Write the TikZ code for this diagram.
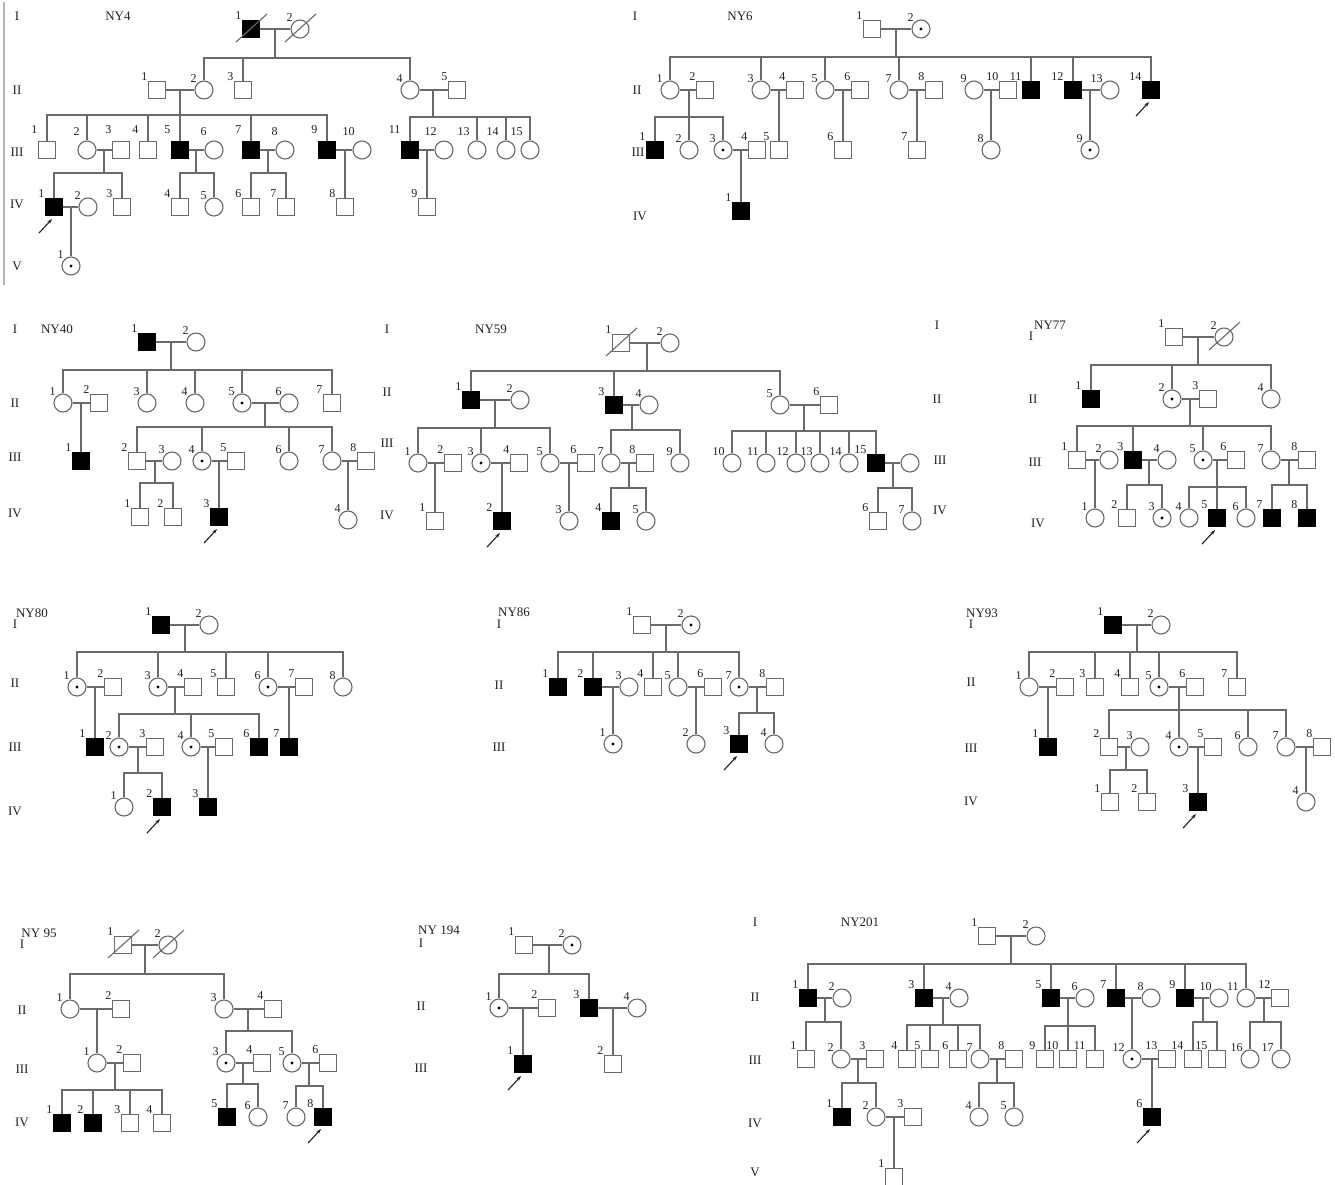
\documentclass[tikz,border=0pt]{standalone}
\usepackage{fontspec}
\setmainfont{Liberation Serif}
\usetikzlibrary{arrows.meta,calc}
\definecolor{ink}{HTML}{6A6A6A}
\definecolor{txt}{HTML}{222222}

% one individual, numbered above left
\newcommand{\pers}[4]{\node[#2, label={[num]north west:#4}] (#1) at (#3) {};}
% a row of individuals: prefix, y, list id/kind/x
\newcommand{\genrow}[3]{\foreach \id/\kind/\x in {#3} {\pers{#1\id}{\kind}{\x,#2}{\id}}}
% couple, descent to a sibship bar, drops to the children
\newcommand{\sibship}[6]{%
  \draw[ln] (#1-#2) -- (#1-#3);
  \coordinate (#1-#4) at (#5);
  \draw[ln] (#1-#4 |- #1-#2) -- (#1-#4);
  \foreach \kid in {#6} {\draw[ln] (#1-\kid) -- (#1-\kid |- #1-#4) -- (#1-#4);}%
}
\newcommand{\deceased}[1]{\draw[ln] ([shift={(-15,13)}]#1.center) -- ([shift={(16,-15)}]#1.center);}
\newcommand{\proband}[1]{\draw[arr] ([shift={(-15,17)}]#1.south) -- ([shift={(-2,3)}]#1.south);}

\begin{document}
\begin{tikzpicture}[x=1pt, y=-1pt,
    male/.style={draw=ink, line width=1.1pt, fill=white, rectangle, minimum size=17pt, inner sep=0pt},
    female/.style={male, circle, minimum size=18pt},
    aff/.style={male, fill=black, draw=black},
    car/.style={female, path picture={\fill[black] (path picture bounding box.center) circle (1.6pt);}},
    num/.style={font=\fontsize{12}{12}\selectfont, text=txt, inner sep=0.4pt},
    gen/.style={font=\fontsize{13}{13}\selectfont, text=txt, inner sep=0pt},
    ln/.style={draw=ink, line width=1.1pt},
    arr/.style={ln, draw=txt, -{Stealth[length=5pt,width=3.5pt]}},
  ]
  \path[use as bounding box, fill=white] (0,0) rectangle (1335,1185);
  \draw[ln, draw=ink!50] (4,2) -- (4,285);

  % ------------------------------------------------------------------ NY4
  \node[gen] (ny4-title) at (118,16) {NY4};
  \foreach \g/\y in {I/16,II/90,III/152,IV/204,V/266} \node[gen] (ny4-g\g) at (17,\y) {\g};
  \pers{ny4-I1}{aff}{251,29}{1}
  \pers{ny4-I2}{female}{300,29}{2}
  \genrow{ny4-II}{90}{1/male/157, 2/female/204, 3/male/243, 4/female/410, 5/male/457}
  \begin{scope}[every label/.append style={yshift=7pt}]
    \genrow{ny4-III}{150}{1/male/47, 2/female/87, 3/male/121, 4/male/148, 5/aff/180, 6/female/214, 7/aff/251,
      8/female/285, 9/aff/327, 10/female/362, 11/aff/410, 12/female/444, 13/female/477, 14/female/506, 15/female/530}
  \end{scope}
  \genrow{ny4-IV}{207}{1/aff/54, 2/female/88, 3/male/122, 4/male/180, 5/female/214, 6/male/251, 7/male/286,
    8/male/345, 9/male/427}
  \pers{ny4-V1}{car}{71,266}{1}
  \sibship{ny4}{I1}{I2}{s1}{275,58}{II2,II3,II4}
  \sibship{ny4}{II1}{II2}{s2}{180,115}{III1,III2,III4,III5,III7,III9}
  \sibship{ny4}{II4}{II5}{s3}{433,117}{III11,III13,III14,III15}
  \sibship{ny4}{III2}{III3}{s4}{104,173}{IV1,IV3}
  \sibship{ny4}{III5}{III6}{s5}{196,173}{IV4,IV5}
  \sibship{ny4}{III7}{III8}{s6}{268,173}{IV6,IV7}
  \sibship{ny4}{III9}{III10}{s7}{345,180}{IV8}
  \sibship{ny4}{III11}{III12}{s8}{427,180}{IV9}
  \sibship{ny4}{IV1}{IV2}{s9}{71,240}{V1}
  \deceased{ny4-I1} \deceased{ny4-I2}
  \proband{ny4-IV1}

  % ------------------------------------------------------------------ NY6
  \node[gen] (ny6-title) at (740,16) {NY6};
  \foreach \g/\x/\y in {I/635/16, II/637/90, III/638/152, IV/640/216} \node[gen] (ny6-g\g) at (\x,\y) {\g};
  \pers{ny6-I1}{male}{872,29}{1}
  \pers{ny6-I2}{car}{921,29}{2}
  \genrow{ny6-II}{90}{1/female/670, 2/male/705, 3/female/761, 4/male/795, 5/female/825, 6/male/860,
    7/female/899, 8/male/934, 9/female/974, 10/male/1008, 11/aff/1031, 12/aff/1073, 13/female/1110, 14/aff/1151}
  \genrow{ny6-III}{150}{1/aff/655, 2/female/689, 3/car/723, 4/male/757, 5/male/779, 6/male/843, 7/male/917,
    8/female/991, 9/car/1090}
  \pers{ny6-IV1}{aff}{741,211}{1}
  \sibship{ny6}{I1}{I2}{s1}{896,57}{II1,II3,II5,II7,II11,II12,II14}
  \sibship{ny6}{II1}{II2}{s2}{689,117}{III1,III2,III3}
  \sibship{ny6}{II3}{II4}{s3}{779,125}{III5}
  \sibship{ny6}{II5}{II6}{s4}{843,125}{III6}
  \sibship{ny6}{II7}{II8}{s5}{917,125}{III7}
  \sibship{ny6}{II9}{II10}{s6}{991,125}{III8}
  \sibship{ny6}{II12}{II13}{s7}{1090,125}{III9}
  \sibship{ny6}{III3}{III4}{s8}{741,185}{IV1}
  \proband{ny6-II14}

  % ------------------------------------------------------------------ NY40
  \node[gen] (ny40-title) at (57,329) {NY40};
  \foreach \g/\y in {I/329,II/403,III/457,IV/513} \node[gen] (ny40-g\g) at (15,\y) {\g};
  \pers{ny40-I1}{aff}{147,342}{1}
  \pers{ny40-I2}{female}{196,342}{2}
  \genrow{ny40-II}{403}{1/female/63, 2/male/99, 3/female/147, 4/female/195, 5/car/242, 6/female/289, 7/male/332}
  \genrow{ny40-III}{461}{1/aff/81, 2/male/137, 3/female/172, 4/car/202, 5/male/236, 6/female/289, 7/female/332, 8/male/366}
  \genrow{ny40-IV}{517}{1/male/140, 2/male/173, 3/aff/219}
  \pers{ny40-IV4}{female}{348,520}{4}
  \sibship{ny40}{I1}{I2}{s1}{171,370}{II1,II3,II4,II5,II7}
  \sibship{ny40}{II1}{II2}{s2}{81,430}{III1}
  \sibship{ny40}{II5}{II6}{s3}{265,427}{III2,III4,III6,III7}
  \sibship{ny40}{III2}{III3}{s4}{155,483}{IV1,IV2}
  \sibship{ny40}{III4}{III5}{s5}{219,490}{IV3}
  \sibship{ny40}{III7}{III8}{s6}{348,490}{IV4}
  \proband{ny40-IV3}

  % ------------------------------------------------------------------ NY59
  \node[gen] (ny59-title) at (491,329) {NY59};
  \foreach \g/\y in {I/329,II/392,III/443,IV/515} \node[gen] (ny59-g\g) at (387,\y) {\g};
  \pers{ny59-I1}{male}{621,343}{1}
  \pers{ny59-I2}{female}{670,343}{2}
  \genrow{ny59-II}{400}{1/aff/471, 2/female/520}
  \genrow{ny59-II}{405}{3/aff/614, 4/female/649, 5/female/780, 6/male/829}
  \genrow{ny59-III}{463}{1/female/418, 2/male/453, 3/car/481, 4/male/519, 5/female/550, 6/male/586, 7/female/611,
    8/male/645, 9/female/680, 10/female/732, 11/female/766, 12/female/796, 13/female/820, 14/female/849, 15/aff/876}
  \node[female] (ny59-III16) at (910,463) {};
  \genrow{ny59-IV}{521}{1/male/435, 2/aff/502, 3/female/569, 4/aff/611, 5/female/646, 6/male/878, 7/female/912}
  \sibship{ny59}{I1}{I2}{s1}{647,371}{II1,II3,II5}
  \sibship{ny59}{II1}{II2}{s2}{495,428}{III1,III3,III5}
  \sibship{ny59}{II3}{II4}{s3}{632,430}{III7,III9}
  \sibship{ny59}{II5}{II6}{s4}{804,431}{III10,III11,III12,III13,III14,III15}
  \sibship{ny59}{III1}{III2}{s5}{435,495}{IV1}
  \sibship{ny59}{III3}{III4}{s6}{502,495}{IV2}
  \sibship{ny59}{III5}{III6}{s7}{569,495}{IV3}
  \sibship{ny59}{III7}{III8}{s8}{629,488}{IV4,IV5}
  \sibship{ny59}{III15}{III16}{s9}{893,488}{IV6,IV7}
  \deceased{ny59-I1}
  \proband{ny59-IV2}

  % ------------------------------------------------------------------ NY77
  \node[gen] (ny77-title) at (1050,325) {NY77};
  \foreach \g/\x/\y in {I/937/325, II/937/399, III/940/460, IV/940/510} \node[gen] (ny77-g\g) at (\x,\y) {\g};
  \foreach \g/\x/\y in {I/1031/336, II/1033/399, III/1035/462, IV/1038/523} \node[gen] (ny77-h\g) at (\x,\y) {\g};
  \pers{ny77-I1}{male}{1174,337}{1}
  \pers{ny77-I2}{female}{1224,337}{2}
  \genrow{ny77-II}{399}{1/aff/1091, 2/car/1172, 3/male/1208, 4/female/1271}
  \genrow{ny77-III}{460}{1/male/1077, 2/female/1109, 3/aff/1133, 4/female/1167, 5/car/1203, 6/male/1236,
    7/female/1271, 8/male/1307}
  \genrow{ny77-IV}{518}{1/female/1095, 2/male/1127, 3/car/1162, 4/female/1189, 5/aff/1217, 6/female/1246,
    7/aff/1272, 8/aff/1307}
  \sibship{ny77}{I1}{I2}{s1}{1198,365}{II1,II2,II4}
  \sibship{ny77}{II2}{II3}{s2}{1190,426}{III1,III3,III5,III7}
  \sibship{ny77}{III1}{III2}{s3}{1095,490}{IV1}
  \sibship{ny77}{III3}{III4}{s4}{1149,485}{IV2,IV3}
  \sibship{ny77}{III5}{III6}{s5}{1217,487}{IV4,IV5,IV6}
  \sibship{ny77}{III7}{III8}{s6}{1289,485}{IV7,IV8}
  \deceased{ny77-I2}
  \proband{ny77-IV5}

  % ------------------------------------------------------------------ NY80
  \node[gen] (ny80-title) at (32,613) {NY80};
  \foreach \g/\y in {I/624,II/683,III/747,IV/811} \node[gen] (ny80-g\g) at (15,\y) {\g};
  \pers{ny80-I1}{aff}{161,625}{1}
  \pers{ny80-I2}{female}{209,625}{2}
  \genrow{ny80-II}{687}{1/car/77, 2/male/113, 3/car/158, 4/male/193, 5/male/226, 6/car/268, 7/male/304, 8/female/343}
  \genrow{ny80-III}{747}{1/aff/95, 2/car/119, 3/male/155, 4/car/191, 5/male/224, 6/aff/259, 7/aff/289}
  \genrow{ny80-IV}{807}{1/female/124, 2/aff/162, 3/aff/208}
  \sibship{ny80}{I1}{I2}{s1}{185,652}{II1,II3,II5,II6,II8}
  \sibship{ny80}{II1}{II2}{s2}{95,720}{III1}
  \sibship{ny80}{II3}{II4}{s3}{175,714}{III2,III4,III6}
  \sibship{ny80}{II6}{II7}{s4}{289,720}{III7}
  \sibship{ny80}{III2}{III3}{s5}{138,773}{IV1,IV2}
  \sibship{ny80}{III4}{III5}{s6}{208,780}{IV3}
  \proband{ny80-IV2}

  % ------------------------------------------------------------------ NY86
  \node[gen] (ny86-title) at (514,612) {NY86};
  \foreach \g/\y in {I/624,II/685,III/747} \node[gen] (ny86-g\g) at (499,\y) {\g};
  \pers{ny86-I1}{male}{642,625}{1}
  \pers{ny86-I2}{car}{691,625}{2}
  \genrow{ny86-II}{687}{1/aff/558, 2/aff/593, 3/female/629, 4/male/653, 5/female/678, 6/male/713, 7/car/739, 8/male/775}
  \genrow{ny86-III}{744}{1/car/613, 2/female/696, 3/aff/739, 4/female/774}
  \sibship{ny86}{I1}{I2}{s1}{666,652}{II1,II2,II4,II5,II7}
  \sibship{ny86}{II2}{II3}{s2}{613,715}{III1}
  \sibship{ny86}{II5}{II6}{s3}{696,715}{III2}
  \sibship{ny86}{II7}{II8}{s4}{757,713}{III3,III4}
  \proband{ny86-III3}

  % ------------------------------------------------------------------ NY93
  \node[gen] (ny93-title) at (982,613) {NY93};
  \foreach \g/\y in {I/624,II/682,III/748,IV/801} \node[gen] (ny93-g\g) at (971,\y) {\g};
  \pers{ny93-I1}{aff}{1113,625}{1}
  \pers{ny93-I2}{female}{1161,625}{2}
  \genrow{ny93-II}{687}{1/female/1029, 2/male/1065, 3/male/1095, 4/male/1130, 5/car/1159, 6/male/1195, 7/male/1237}
  \genrow{ny93-III}{747}{1/aff/1048, 2/male/1109, 3/female/1140, 4/car/1179, 5/male/1213, 6/female/1248,
    7/female/1286, 8/male/1322}
  \genrow{ny93-IV}{802}{1/male/1110, 2/male/1147, 3/aff/1198, 4/female/1306}
  \sibship{ny93}{I1}{I2}{s1}{1137,652}{II1,II3,II4,II5,II7}
  \sibship{ny93}{II1}{II2}{s2}{1048,720}{III1}
  \sibship{ny93}{II5}{II6}{s3}{1179,710}{III2,III4,III6,III7}
  \sibship{ny93}{III2}{III3}{s4}{1126,770}{IV1,IV2}
  \sibship{ny93}{III4}{III5}{s5}{1198,775}{IV3}
  \sibship{ny93}{III7}{III8}{s6}{1306,775}{IV4}
  \proband{ny93-IV3}

  % ------------------------------------------------------------------ NY 95
  \node[gen] (ny95-title) at (39,933) {NY 95};
  \foreach \g/\y in {I/944,II/1010,III/1069,IV/1122} \node[gen] (ny95-g\g) at (22,\y) {\g};
  \pers{ny95-I1}{male}{123,945}{1}
  \pers{ny95-I2}{female}{168,945}{2}
  \genrow{ny95-II}{1009}{1/female/70, 2/male/121, 3/female/224, 4/male/273}
  \genrow{ny95-III}{1063}{1/female/97, 2/male/132, 3/car/226, 4/male/262, 5/car/292, 6/male/328}
  \genrow{ny95-IV}{1123}{1/aff/62, 2/aff/93, 3/male/130, 4/male/162}
  \genrow{ny95-IV}{1117}{5/aff/227, 6/female/258, 7/female/296, 8/aff/323}
  \sibship{ny95}{I1}{I2}{s1}{145,974}{II1,II3}
  \sibship{ny95}{II1}{II2}{s2}{97,1040}{III1}
  \sibship{ny95}{II3}{II4}{s3}{248,1031}{III3,III5}
  \sibship{ny95}{III1}{III2}{s4}{115,1090}{IV1,IV2,IV3,IV4}
  \sibship{ny95}{III3}{III4}{s5}{243,1084}{IV5,IV6}
  \sibship{ny95}{III5}{III6}{s6}{309,1086}{IV7,IV8}
  \deceased{ny95-I1} \deceased{ny95-I2}
  \proband{ny95-IV8}

  % ------------------------------------------------------------------ NY 194
  \node[gen] (ny194-title) at (439,930) {NY 194};
  \foreach \g/\y in {I/943,II/1006,III/1068} \node[gen] (ny194-g\g) at (421,\y) {\g};
  \pers{ny194-I1}{male}{524,945}{1}
  \pers{ny194-I2}{car}{572,945}{2}
  \genrow{ny194-II}{1008}{1/car/499, 2/male/547, 3/aff/589, 4/female/637}
  \genrow{ny194-III}{1064}{1/aff/523, 2/male/613}
  \sibship{ny194}{I1}{I2}{s1}{549,974}{II1,II3}
  \sibship{ny194}{II1}{II2}{s2}{523,1035}{III1}
  \sibship{ny194}{II3}{II4}{s3}{613,1035}{III2}
  \proband{ny194-III1}

  % ------------------------------------------------------------------ NY201
  \node[gen] (ny201-title) at (860,922) {NY201};
  \foreach \g/\y in {I/922,II/997,III/1060,IV/1123,V/1172} \node[gen] (ny201-g\g) at (755,\y) {\g};
  \pers{ny201-I1}{male}{987,936}{1}
  \pers{ny201-I2}{female}{1036,936}{2}
  \genrow{ny201-II}{998}{1/aff/808, 2/female/842, 3/aff/924, 4/female/959, 5/aff/1051, 6/female/1085, 7/aff/1116,
    8/female/1151, 9/aff/1185, 10/female/1219, 11/female/1246, 12/male/1280}
  \genrow{ny201-III}{1059}{1/male/806, 2/female/841, 3/male/875, 4/male/907, 5/male/930, 6/male/958, 7/female/980,
    8/male/1014, 9/male/1045, 10/male/1068, 11/male/1095, 12/car/1132, 13/male/1167, 14/male/1193, 15/male/1217,
    16/female/1250, 17/female/1281}
  \genrow{ny201-IV}{1117}{1/aff/842, 2/female/876, 3/male/913, 4/female/979, 5/female/1014, 6/aff/1152}
  \pers{ny201-V1}{male}{894,1177}{1}
  \sibship{ny201}{I1}{I2}{s1}{1011,964}{II1,II3,II5,II7,II9,II11}
  \sibship{ny201}{II1}{II2}{s2}{825,1022}{III1,III2}
  \sibship{ny201}{II3}{II4}{s3}{943,1025}{III4,III5,III6,III7}
  \sibship{ny201}{II5}{II6}{s4}{1068,1026}{III9,III10,III11}
  \sibship{ny201}{II7}{II8}{s5}{1132,1030}{III12}
  \sibship{ny201}{II9}{II10}{s6}{1203,1022}{III14,III15}
  \sibship{ny201}{II11}{II12}{s7}{1264,1022}{III16,III17}
  \sibship{ny201}{III2}{III3}{s8}{858,1083}{IV1,IV2}
  \sibship{ny201}{III7}{III8}{s9}{997,1083}{IV4,IV5}
  \sibship{ny201}{III12}{III13}{s10}{1152,1090}{IV6}
  \sibship{ny201}{IV2}{IV3}{s11}{894,1150}{V1}
  \proband{ny201-IV6}
\end{tikzpicture}
\end{document}
